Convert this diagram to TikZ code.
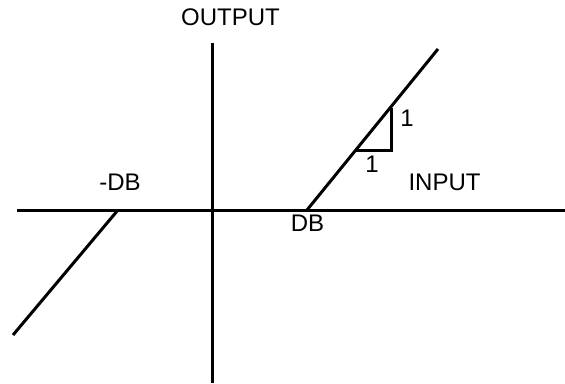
\documentclass[tikz,border=0pt]{standalone}
\usepackage{fontspec}
\setmainfont{Liberation Sans}
\begin{document}
\begin{tikzpicture}[x=1pt,y=-1pt,
  lbl/.style={inner sep=0pt,text height=0.716em,text depth=0pt,font=\fontsize{24}{28}\selectfont},
  ln/.style={line width=3pt,line cap=butt}]
\useasboundingbox (0,0) rectangle (565,383);
% axes
\coordinate (xl) at (17,210);
\coordinate (xr) at (565,210);
\coordinate (yt) at (212,43);
\coordinate (yb) at (212,383);
\draw[ln] (xl) -- (xr);
\draw[ln] (yt) -- (yb);
% dead band ramps
\coordinate (ndb) at (118,210);
\coordinate (lend) at (13,335);
\coordinate (pdb) at (307,210);
\coordinate (rend) at (438,49);
\draw[ln] (lend) -- (ndb);
\draw[ln] (pdb) -- (rend);
% slope triangle
\coordinate (ta) at (391,108);
\coordinate (tb) at (391,150);
\coordinate (tc) at (356,150);
\draw[ln,line join=miter] (ta) -- (tb) -- (tc);
% labels
\node[lbl] (out) at (230.5,22) {OUTPUT};
\node[lbl] (in) at (444.5,187) {INPUT};
\node[lbl] (db) at (307.5,228) {DB};
\node[lbl] (mdb) at (120,187) {-DB};
\node[lbl] (one1) at (407,123) {1};
\node[lbl] (one2) at (372,169) {1};
\end{tikzpicture}
\end{document}
